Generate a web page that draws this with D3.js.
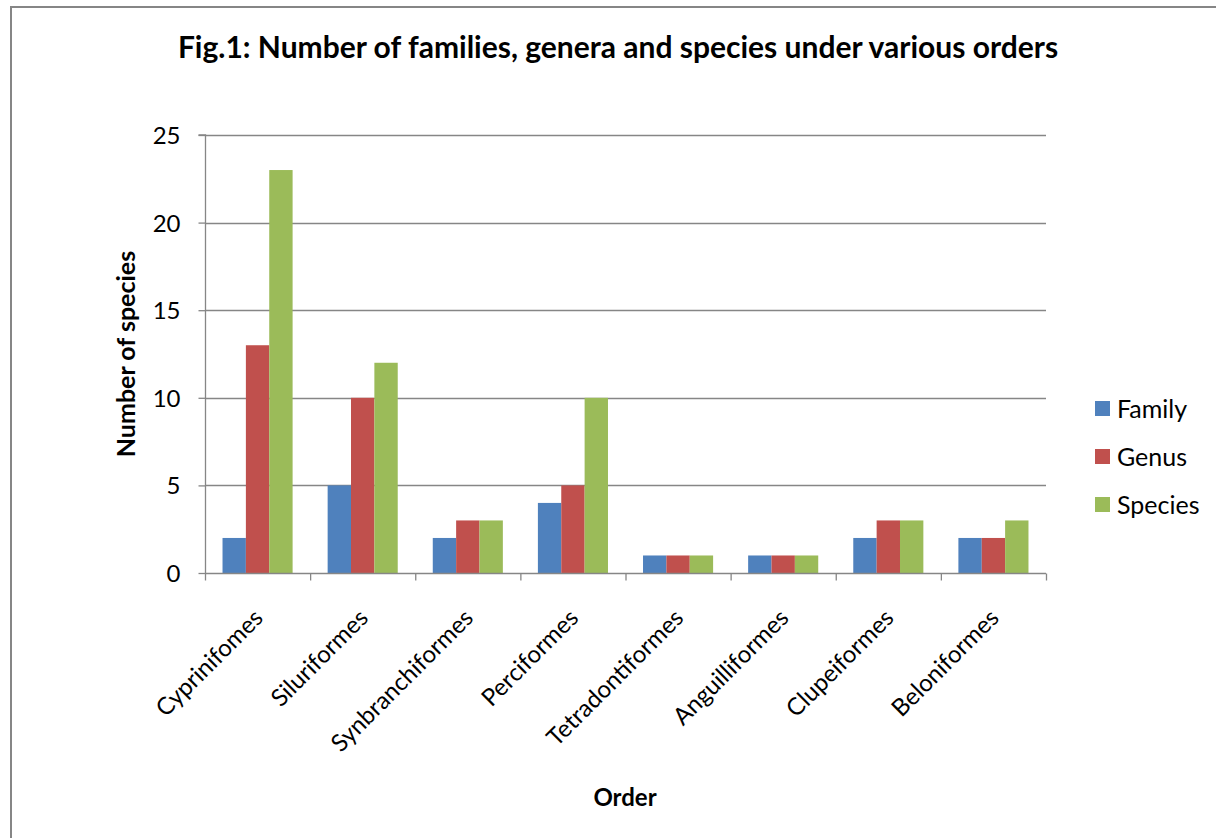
<!DOCTYPE html>
<html><head><meta charset="utf-8">
<script src="https://cdn.jsdelivr.net/npm/d3@7"></script>
<style>
html,body{margin:0;padding:0;background:#fff;}
text{font-family:Lato,"Open Sans",sans-serif;fill:#000;}
</style></head>
<body><svg id="c" width="1216" height="838"></svg>
<script>
const categories = ["Cyprinifomes","Siluriformes","Synbranchiformes","Perciformes","Tetradontiformes","Anguilliformes","Clupeiformes","Beloniformes"];
const seriesNames = ["Family","Genus","Species"];
const family  = [2,5,2,4,1,1,2,2];
const genus   = [13,10,3,5,1,1,3,2];
const species = [23,12,3,10,1,1,3,3];
const yTicks = [0,5,10,15,20,25];
const colors = ["#4F81BD","#C0504D","#9BBB59"];
const seriesValues = [family, genus, species];

const svg = d3.select("#c");
const L = 205, R = 1046, T = 135, B = 573;
const gray = "#868686";

// chart border (right/bottom edges fall outside the view)
svg.append("rect").attr("x",11).attr("y",7).attr("width",1240).attr("height",900)
  .attr("fill","none").attr("stroke",gray).attr("stroke-width",2);

const x = d3.scaleBand().domain(categories).range([L,R]).paddingInner(0).paddingOuter(0);
const y = d3.scaleLinear().domain([0,25]).range([B,T]);
const inner = d3.scaleBand().domain(seriesNames).range([0,x.bandwidth()]).paddingInner(0).paddingOuter(0.75);

// gridlines
svg.append("g").selectAll("line").data(yTicks.filter(d=>d>0)).join("line")
  .attr("x1",L).attr("x2",R).attr("y1",d=>Math.round(y(d))+0.5).attr("y2",d=>Math.round(y(d))+0.5)
  .attr("stroke",gray).attr("stroke-width",1.3);

// bars
seriesNames.forEach((s,si)=>{
  svg.append("g").selectAll("rect").data(categories).join("rect")
    .attr("x",c=>x(c)+inner(s))
    .attr("width",inner.bandwidth())
    .attr("y",(c,i)=>y(seriesValues[si][i]))
    .attr("height",(c,i)=>y(0)-y(seriesValues[si][i]))
    .attr("fill",colors[si]);
});

// y axis
const yAxis = d3.axisLeft(y).tickValues(yTicks).tickSize(7).tickPadding(18);
const gy = svg.append("g").attr("transform",`translate(${L+0.5},0)`).call(yAxis);
gy.select(".domain").attr("stroke",gray).attr("stroke-width",1.3).attr("d",`M-7,${T}H0V${B}`);
gy.selectAll(".tick line").attr("stroke",gray).attr("stroke-width",1.3);
gy.selectAll(".tick text").attr("font-size",24).attr("font-family","Lato").attr("fill","#000").attr("dy","0.35em");

// x axis
const gx = svg.append("g").attr("transform",`translate(0,${B+0.5})`);
gx.append("line").attr("x1",L).attr("x2",R).attr("stroke",gray).attr("stroke-width",1.3);
const bounds = categories.map(c=>x(c)).concat([R]);
gx.selectAll("line.t").data(bounds).join("line").attr("class","t")
  .attr("x1",d=>d+0.5).attr("x2",d=>d+0.5).attr("y1",0).attr("y2",7)
  .attr("stroke",gray).attr("stroke-width",1.3);
gx.selectAll("text").data(categories).join("text")
  .attr("transform",c=>`translate(${x(c)+x.bandwidth()/2-5},${34}) rotate(-45)`)
  .attr("text-anchor","end").attr("dy","0.7em").attr("font-size",24).text(c=>c);

// titles
svg.append("text").attr("x",618).attr("y",58).attr("text-anchor","middle")
  .attr("font-size",30).attr("font-weight","bold").text("Fig.1: Number of families, genera and species under various orders");
svg.append("text").attr("x",625).attr("y",806).attr("text-anchor","middle")
  .attr("font-size",24).attr("font-weight","bold").text("Order");
svg.append("text").attr("transform",`translate(126,${(T+B)/2}) rotate(-90)`).attr("text-anchor","middle")
  .attr("dy","0.35em").attr("font-size",25).attr("font-weight","bold").text("Number of species");

// legend
const lg = svg.append("g").attr("transform","translate(1095,401)");
seriesNames.forEach((s,i)=>{
  const g = lg.append("g").attr("transform",`translate(0,${i*48})`);
  g.append("rect").attr("width",15).attr("height",15).attr("fill",colors[i]);
  g.append("text").attr("x",22).attr("y",7.5).attr("dy","0.36em").attr("font-size",25).text(s);
});
</script></body></html>
